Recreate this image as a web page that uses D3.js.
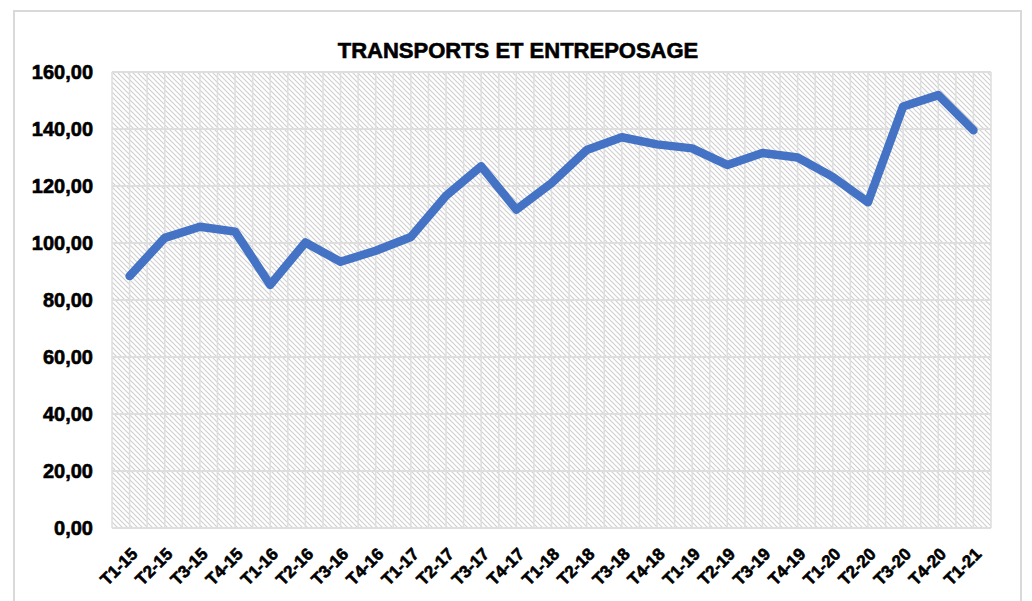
<!DOCTYPE html>
<html>
<head>
<meta charset="utf-8">
<script src="https://cdn.jsdelivr.net/npm/d3@7"></script>
<style>
  body { margin: 0; background: #fff; }
  text { font-family: "Liberation Sans", Arial, sans-serif; font-weight: bold; fill: #000;
         stroke: #000; stroke-width: 0.6px; }
</style>
</head>
<body>
<div id="chart-area"></div>
<script>
// quarters and index values
const quarters = ["T1-15","T2-15","T3-15","T4-15","T1-16","T2-16","T3-16","T4-16",
  "T1-17","T2-17","T3-17","T4-17","T1-18","T2-18","T3-18","T4-18",
  "T1-19","T2-19","T3-19","T4-19","T1-20","T2-20","T3-20","T4-20","T1-21"];
const values = [88.4, 101.8, 105.7, 104.0, 85.3, 100.2, 93.4, 97.3,
  102.1, 116.6, 126.9, 111.7, 121.0, 132.6, 137.1, 134.6,
  133.2, 127.4, 131.6, 130.0, 123.2, 114.3, 147.9, 151.9, 139.6];
const yTicks = [0, 20, 40, 60, 80, 100, 120, 140, 160];
const title = "TRANSPORTS ET ENTREPOSAGE";

const W = 1032, H = 601;
const margin = { left: 112, right: 41, top: 72, bottom: 73 };
const width = W - margin.left - margin.right, height = H - margin.top - margin.bottom;

const svg = d3.select("#chart-area").append("svg")
  .attr("width", W).attr("height", H);

// hatch fill of the plot area
const pat = svg.append("defs").append("pattern")
  .attr("id", "hatch")
  .attr("patternUnits", "userSpaceOnUse")
  .attr("width", 5).attr("height", 5);
pat.append("path")
  .attr("d", "M0,0 L5,5 M-1,4 L1,6 M4,-1 L6,1")
  .attr("stroke", "#d0d0d0")
  .attr("stroke-width", 1.2);

// outer frame
svg.append("rect")
  .attr("x", 14).attr("y", 11)
  .attr("width", 1007).attr("height", 620)
  .attr("fill", "none")
  .attr("stroke", "#d9d9d9")
  .attr("stroke-width", 2);

svg.append("text")
  .attr("x", 518).attr("y", 58)
  .attr("text-anchor", "middle")
  .attr("font-size", "22px")
  .text(title);

const g = svg.append("g")
  .attr("transform", "translate(" + margin.left + "," + margin.top + ")");

const x = d3.scaleBand().domain(quarters).range([0, width]);
const y = d3.scaleLinear().domain([0, 160]).range([height, 0]);

g.append("rect")
  .attr("width", width).attr("height", height)
  .attr("fill", "url(#hatch)");

// vertical grid: category edges and centres
const half = x.bandwidth() / 2;
const vLines = d3.range(quarters.length * 2 + 1).map(i => i * half);
g.selectAll(".vgrid").data(vLines).enter().append("line")
  .attr("class", "vgrid")
  .attr("x1", d => d).attr("x2", d => d)
  .attr("y1", 0).attr("y2", height)
  .attr("stroke", "#dedede").attr("stroke-width", 1.5);

g.selectAll(".hgrid").data(yTicks).enter().append("line")
  .attr("class", "hgrid")
  .attr("x1", 0).attr("x2", width)
  .attr("y1", d => y(d)).attr("y2", d => y(d))
  .attr("stroke", "#dedede").attr("stroke-width", 2);

// y labels
const fmt = d => d3.format(".2f")(d).replace(".", ",");
const yaxis = d3.axisLeft(y).tickValues(yTicks).tickFormat(fmt).tickSize(0).tickPadding(19);
const ya = g.append("g").call(yaxis);
ya.select(".domain").remove();
ya.selectAll("text").attr("font-size", "20px").attr("fill", "#000");

// x labels
const xaxis = d3.axisBottom(x).tickSize(0).tickPadding(0);
const xa = g.append("g").attr("transform", "translate(0," + height + ")").call(xaxis);
xa.select(".domain").remove();
xa.selectAll("text")
  .attr("font-size", "17px")
  .attr("fill", "#000")
  .attr("text-anchor", "end")
  .attr("dy", null)
  .attr("y", 0)
  .attr("transform", "translate(9,27) rotate(-45)");

// line
const line = d3.line()
  .x((d, i) => x(quarters[i]) + half)
  .y(d => y(d));

g.append("path")
  .datum(values)
  .attr("d", line)
  .attr("fill", "none")
  .attr("stroke", "#4472c4")
  .attr("stroke-width", 8.5)
  .attr("stroke-linejoin", "round")
  .attr("stroke-linecap", "round");
</script>
</body>
</html>
